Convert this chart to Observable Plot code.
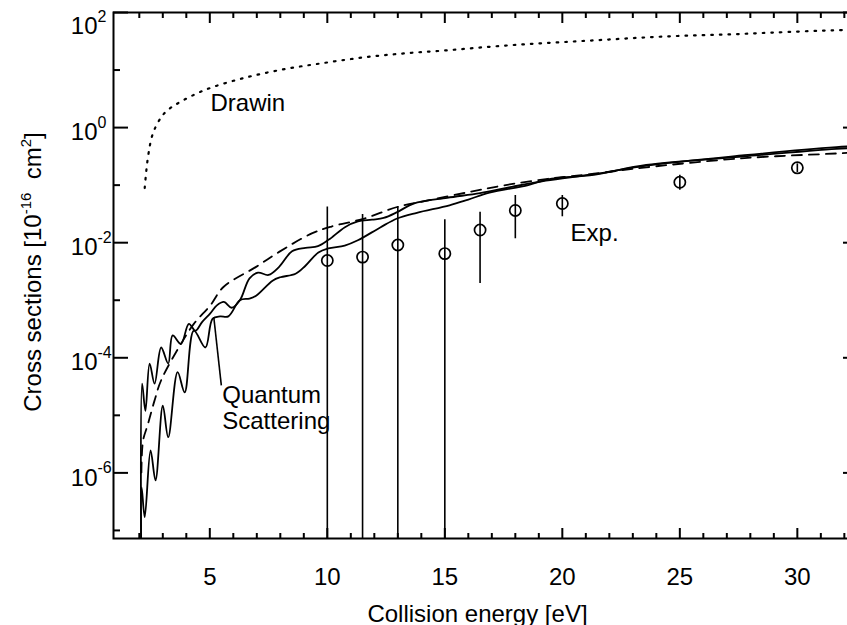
<!DOCTYPE html>
<html><head><meta charset="utf-8">
<script src="https://cdn.jsdelivr.net/npm/d3@7"></script>
<script src="https://cdn.jsdelivr.net/npm/@observablehq/plot@0.6"></script>
<style>
html,body{margin:0;padding:0;background:#fff;overflow:hidden;}
#chart{width:847px;height:625px;overflow:hidden;background:#fff;}
</style></head><body><div id="chart"></div>
<script>
const FONT = "'Liberation Sans', Arial, Helvetica, sans-serif";

// ---- Drawin (dotted) ----
const drawinX = [2.23, 2.37, 2.58, 2.93, 3.2, 3.63, 4.77, 6.34, 8.08, 9.81, 11.55, 13.28, 15.02, 16.76, 18.49, 20.22, 21.97, 23.7, 25.44, 27.17, 28.9, 31.5, 32.6];
const drawinY = [0.0891, 0.309, 0.794, 1.51, 2.0, 2.63, 4.47, 7.08, 10.2, 13.2, 16.6, 19.5, 21.9, 25.1, 28.2, 30.9, 33.9, 37.2, 39.8, 41.7, 44.7, 49.0, 50.1];

// ---- dashed curve ----
const dashX = [2.09, 2.16, 2.37, 2.65, 2.93, 3.77, 4.32, 5.02, 5.58, 6.97, 7.95, 9.34, 10.18, 11.58, 12.97, 14.36, 16.04, 17.43, 19.39, 21.34, 23.57, 27.75, 31.66, 32.6];
const dashY = [1.02e-6, 3.63e-6, 7.08e-6, 1.82e-5, 4.07e-5, 1.74e-4, 3.89e-4, 8.13e-4, 1.70e-3, 3.80e-3, 6.92e-3, 1.45e-2, 1.91e-2, 2.63e-2, 4.17e-2, 5.50e-2, 7.59e-2, 9.77e-2, 0.129, 0.158, 0.204, 0.295, 0.355, 0.372];

// ---- quantum scattering, curve 1 (upper at low energy) ----
const qs1X = [2.09, 2.12, 2.26, 2.44, 2.65, 2.93, 3.23, 3.42, 3.77, 4.11, 4.39, 4.67, 5.02, 5.3, 5.6, 5.93, 6.28, 6.69, 7.05, 7.5, 7.95, 8.5, 9.07, 9.6, 10.05, 10.75, 11.3, 11.9, 12.4, 12.97, 13.67, 15.1, 16.5, 17.85, 19.3, 21.34, 23.57, 27.75, 31.66, 32.6];
const qs1Y = [1e-8, 3.55e-5, 1.20e-5, 7.94e-5, 3.55e-5, 1.51e-4, 7.94e-5, 2.45e-4, 1.74e-4, 3.89e-4, 2.95e-4, 4.17e-4, 5.89e-4, 8.13e-4, 9.33e-4, 7.41e-4, 1.0e-3, 2.40e-3, 3.02e-3, 2.75e-3, 3.80e-3, 7.08e-3, 8.13e-3, 8.71e-3, 1.12e-2, 1.86e-2, 2.34e-2, 2.51e-2, 2.69e-2, 3.39e-2, 4.79e-2, 6.03e-2, 7.24e-2, 9.33e-2, 0.120, 0.155, 0.219, 0.331, 0.457, 0.479];

// ---- quantum scattering, curve 2 (lower at low energy) ----
const qs2X = [2.09, 2.10, 2.23, 2.48, 2.69, 3.0, 3.23, 3.63, 3.93, 4.32, 4.81, 5.12, 5.44, 5.79, 6.28, 6.69, 6.97, 7.67, 8.0, 8.65, 9.07, 9.62, 10.04, 10.74, 11.3, 12.27, 12.97, 13.81, 15.2, 16.0, 16.9, 18.55, 19.39, 21.34, 23.57, 27.75, 31.66, 32.6];
const qs2Y = [1e-8, 5.62e-7, 1.70e-7, 2.45e-6, 7.41e-7, 1.48e-5, 4.17e-6, 5.62e-5, 2.51e-5, 2.95e-4, 1.51e-4, 4.79e-4, 5.25e-4, 5.25e-4, 1.0e-3, 1.07e-3, 1.20e-3, 2.19e-3, 2.51e-3, 2.88e-3, 3.98e-3, 6.76e-3, 7.94e-3, 8.91e-3, 1.10e-2, 1.86e-2, 2.63e-2, 3.31e-2, 4.47e-2, 5.62e-2, 7.41e-2, 0.100, 0.126, 0.151, 0.224, 0.316, 0.427, 0.447];

// ---- experiment ----
const expX    = [10, 11.5, 13, 15, 16.5, 18, 20, 25, 30];
const expY    = [4.90e-3, 5.62e-3, 9.12e-3, 6.46e-3, 1.66e-2, 3.63e-2, 4.79e-2, 0.112, 0.200];
const expHigh = [4.17e-2, 3.09e-2, 4.27e-2, 2.51e-2, 3.39e-2, 6.61e-2, 6.61e-2, 0.148, 0.234];
const expLow  = [1e-8, 1e-8, 1e-8, 1e-8, 1.95e-3, 1.17e-2, 2.82e-2, 8.13e-2, 0.166];

// ---- ticks ----
const xMajorTicks = [5, 10, 15, 20, 25, 30];
const xMinorTicks = [2, 3, 4, 6, 7, 8, 9, 11, 12, 13, 14, 16, 17, 18, 19, 21, 22, 23, 24, 26, 27, 28, 29, 31, 32];
const yMajorTicks = [1e-6, 1e-4, 1e-2, 1, 100];
const yMinorTicks = [1e-7, 1e-5, 1e-3, 0.1, 10];
const yLabelValues = [100, 1, 1e-2, 1e-4, 1e-6];
const yLabelExponents = ["2", "0", "-2", "-4", "-6"];

// ---- annotations ----
const noteText = ["Drawin", "Quantum", "Scattering", "Exp."];
const noteX = [5.03, 5.53, 5.53, 20.35];
const noteY = [1.98, 1.67e-5, 5.68e-6, 1.09e-2];
const pointerX = [5.17, 5.49];
const pointerY = [5.07e-4, 3.31e-5];
const xTitle = "Collision energy [eV]";

const toRows = (xs, ys) => xs.map((x, i) => ({x, y: ys[i]}));
const drawin = toRows(drawinX, drawinY);
const dashed = toRows(dashX, dashY);
const qs1 = toRows(qs1X, qs1Y);
const qs2 = toRows(qs2X, qs2Y);
const exp = expX.map((x, i) => ({x, y: expY[i], hi: expHigh[i], lo: expLow[i]}));
const notes = noteText.map((t, i) => ({t, x: noteX[i], y: noteY[i]}));
const yLabels = yLabelValues.map((v, i) => ({v, e: yLabelExponents[i]}));
const pointer = [{x1: pointerX[0], y1: pointerY[0], x2: pointerX[1], y2: pointerY[1]}];

const chart = Plot.plot({
  width: 857, height: 625,
  marginLeft: 113, marginRight: 0, marginTop: 12, marginBottom: 87,
  style: {fontFamily: FONT, fontSize: "24px", background: "white", color: "black", maxWidth: "none", overflow: "visible"},
  x: {domain: [0.902, 32.56], label: null},
  y: {type: "log", domain: [7.24e-8, 100], label: null},
  marks: [
    // experimental error bars & circles
    Plot.ruleX(exp, {x: "x", y1: "lo", y2: "hi", stroke: "black", strokeWidth: 1.6, clip: true}),
    Plot.dot(exp, {x: "x", y: "y", r: 5.6, stroke: "black", fill: "none", strokeWidth: 1.7}),
    // curves
    Plot.line(drawin, {x: "x", y: "y", stroke: "black", strokeWidth: 2.2, strokeDasharray: "1.6 7", curve: "catmull-rom", clip: true}),
    Plot.line(dashed, {x: "x", y: "y", stroke: "black", strokeWidth: 1.8, strokeDasharray: "10 7", curve: "catmull-rom", clip: true}),
    Plot.line(qs1, {x: "x", y: "y", stroke: "black", strokeWidth: 1.8, curve: "catmull-rom", clip: true}),
    Plot.line(qs2, {x: "x", y: "y", stroke: "black", strokeWidth: 1.8, curve: "catmull-rom", clip: true}),
    Plot.link(pointer, {x1: "x1", y1: "y1", x2: "x2", y2: "y2", stroke: "black", strokeWidth: 1.6}),
    // annotations
    Plot.text(notes, {x: "x", y: "y", text: "t", textAnchor: "start", lineAnchor: "bottom", fontSize: 24, fill: "black"}),
    // frame
    Plot.frame({stroke: "black", strokeWidth: 2}),
    // axes ticks (inward)
    Plot.axisX({anchor: "bottom", ticks: xMajorTicks, tickSize: -10, tickPadding: 39, fontSize: 24, strokeWidth: 2, label: null, fill: "black"}),
    Plot.axisX({anchor: "bottom", ticks: xMinorTicks, tickSize: -5, tickFormat: () => "", strokeWidth: 2, label: null}),
    Plot.axisX({anchor: "top", ticks: xMajorTicks, tickSize: -10, tickFormat: () => "", strokeWidth: 2, label: null}),
    Plot.axisX({anchor: "top", ticks: xMinorTicks, tickSize: -5, tickFormat: () => "", strokeWidth: 2, label: null}),
    Plot.axisY({anchor: "left", ticks: yMajorTicks, tickSize: -15, tickFormat: () => "", strokeWidth: 2, label: null}),
    Plot.axisY({anchor: "left", ticks: yMinorTicks, tickSize: -7, tickFormat: () => "", strokeWidth: 2, label: null}),
    Plot.axisY({anchor: "right", ticks: yMajorTicks, tickSize: -15, tickFormat: () => "", strokeWidth: 2, label: null}),
    Plot.axisY({anchor: "right", ticks: yMinorTicks, tickSize: -7, tickFormat: () => "", strokeWidth: 2, label: null}),
    // y tick labels with exponents
    Plot.text(yLabels, {filter: d => d.v < 100, y: "v", text: () => "10", frameAnchor: "left", textAnchor: "end", lineAnchor: "bottom", dx: -16, dy: 12.7, fontSize: 24, fill: "black"}),
    Plot.text(yLabels, {filter: d => d.v < 100, y: "v", text: "e", frameAnchor: "left", textAnchor: "start", lineAnchor: "bottom", dx: -16, dy: 0, fontSize: 16, fill: "black"}),
    Plot.text(yLabels, {filter: d => d.v >= 100, y: "v", text: () => "10", frameAnchor: "left", textAnchor: "end", lineAnchor: "bottom", dx: -16, dy: 21.3, fontSize: 24, fill: "black"}),
    Plot.text(yLabels, {filter: d => d.v >= 100, y: "v", text: "e", frameAnchor: "left", textAnchor: "start", lineAnchor: "bottom", dx: -16, dy: 9.7, fontSize: 16, fill: "black"}),
    // x title
    Plot.text([xTitle], {text: d => d, frameAnchor: "bottom", dx: -8, dy: 83, lineAnchor: "bottom", fontSize: 24, fill: "black"})
  ]
});
document.getElementById("chart").append(chart);

// y-axis title with superscripts
const yt = d3.select(chart).append("text")
  .attr("transform", "translate(41,272) rotate(-90)")
  .attr("text-anchor", "middle")
  .attr("fill", "black")
  .style("font-family", FONT)
  .style("font-size", "24px");
yt.append("tspan").text("Cross sections [10");
yt.append("tspan").attr("dy", -10).style("font-size", "15px").text("-16");
yt.append("tspan").attr("dy", 10).text("\u00a0 cm");
yt.append("tspan").attr("dy", -10).style("font-size", "15px").text("2");
yt.append("tspan").attr("dy", 10).text("]");
</script>
</body></html>
